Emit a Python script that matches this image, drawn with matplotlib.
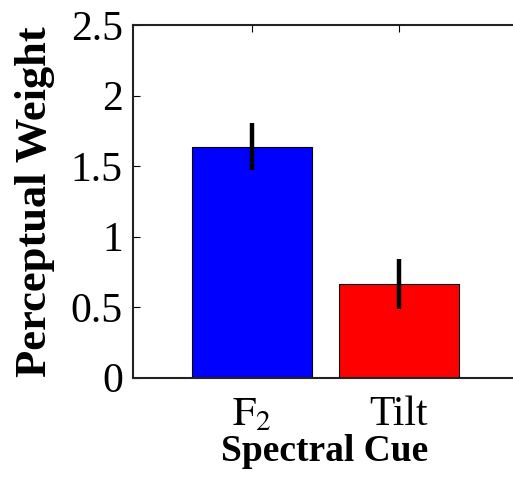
import matplotlib
matplotlib.use('Agg')
import matplotlib.pyplot as plt
import numpy as np

plt.rcParams['font.family'] = ['Liberation Serif', 'DejaVu Serif']
plt.rcParams['mathtext.fontset'] = 'stix'

# ---- data ----
cues = ['$\\mathrm{F}_2$', 'Tilt']
weights = [1.637, 0.664]
errors = [0.166, 0.174]
colors = ['#0000ff', '#ff0000']

fig = plt.figure(figsize=(5.13, 4.8), dpi=100)
ax = fig.add_axes([0.2583, 0.2131, 0.748, 0.7348])

x = np.arange(1, len(cues) + 1)
ax.bar(x, weights, width=0.815, color=colors, edgecolor='black', linewidth=0.8, zorder=2)
ax.errorbar(x, weights, yerr=errors, fmt='none', ecolor='black', elinewidth=3.2, capsize=0, zorder=3)

ax.set_xlim(0.19, 2.8)
ax.set_ylim(0, 2.5)
ax.set_yticks([0, 0.5, 1, 1.5, 2, 2.5])
ax.set_yticklabels(['0', '0.5', '1', '1.5', '2', '2.5'])
ax.set_xticks(x)
ax.set_xticklabels(cues)

# matlab style: ticks inside, right side is off the figure
ax.tick_params(direction='in', length=5, width=0.8, labelsize=30, top=True, right=False)
ax.tick_params(axis='y', pad=7)
ax.tick_params(axis='x', pad=13)
for s in ax.spines.values():
    s.set_linewidth(1.5)
    s.set_color('#222222')
ax.spines['right'].set_visible(False)

ax.set_ylabel('Perceptual Weight', fontsize=32, fontweight='bold', labelpad=11)
ax.set_xlabel('Spectral Cue', fontsize=27, fontweight='bold', labelpad=0)

fig.savefig('out.png', dpi=100)
